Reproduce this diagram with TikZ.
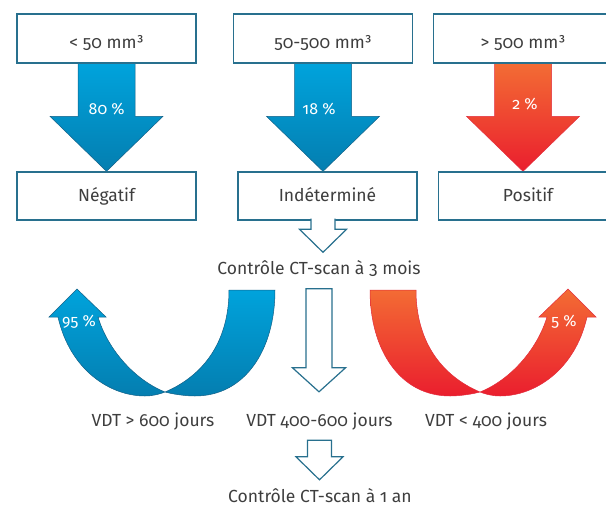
\documentclass[tikz,border=0pt]{standalone}
\usepackage{fontspec}
\setmainfont{Fira Sans}[Numbers=OldStyle]
\usetikzlibrary{calc,backgrounds}
\definecolor{boxline}{RGB}{40,112,142}
\definecolor{bluetop}{RGB}{0,163,220}
\definecolor{bluebot}{RGB}{4,126,176}
\definecolor{blueedge}{RGB}{18,96,135}
\definecolor{redtop}{RGB}{243,108,52}
\definecolor{redbot}{RGB}{234,30,46}
\definecolor{rededge}{RGB}{226,45,60}
\definecolor{txt}{RGB}{62,62,62}
\tikzset{
  sizebox/.style={draw=boxline, line width=1.3pt, fill=white, minimum width=179pt,
    minimum height=49pt, text=txt, font=\fontsize{17.5}{20}\selectfont,
    text height=23pt, text depth=3.5pt},
  resultbox/.style={sizebox, minimum height=48pt, text height=13pt, text depth=3pt},
  caption/.style={text=txt, font=\fontsize{17.5}{20}\selectfont, anchor=base,
    inner xsep=0pt, inner ysep=9pt, text height=13pt, text depth=5pt},
  pct/.style={text=white, font=\fontsize{16}{18}\selectfont, anchor=base, inner sep=0pt},
  bluearrow/.style={top color=bluetop, bottom color=bluebot, draw=blueedge, line width=0.5pt},
  redarrow/.style={top color=redtop, bottom color=redbot, draw=rededge, line width=0.5pt},
  hollow/.style={fill=white, draw=boxline, line width=1.2pt},
}
\def\FatArrow#1#2#3#4#5#6{%
 \path[#6] let \p1=#1, \p2=#2 in
   (\x1-#3pt,\y1) -- (\x1-#3pt,\y2+#5pt) -- (\x1-#4pt,\y2+#5pt) -- (\x1,\y2)
   -- (\x1+#4pt,\y2+#5pt) -- (\x1+#3pt,\y2+#5pt) -- (\x1+#3pt,\y1) -- cycle;
}
% same, but left open at the top where it leaves a box
\def\StubArrow#1#2#3#4#5#6{%
 \path[#6] let \p1=#1, \p2=#2 in
   (\x1-#3pt,\y1+2pt) -- (\x1-#3pt,\y2+#5pt) -- (\x1-#4pt,\y2+#5pt) -- (\x1,\y2)
   -- (\x1+#4pt,\y2+#5pt) -- (\x1+#3pt,\y2+#5pt) -- (\x1+#3pt,\y1+2pt);
}
\def\UTurn#1{%
 \path[#1] (58,317) .. controls (70,370) and (110,396) .. (145,396)
   .. controls (153,396) and (160,394) .. (165,392)
   .. controls (172,394) and (185,396) .. (195,396)
   .. controls (245,396) and (275,350) .. (275,290) -- (229,290)
   .. controls (229,340) and (205,375) .. (165,392)
   .. controls (135,380) and (108,350) .. (98,317) -- (106,317) -- (77,289)
   -- (49,317) -- cycle;
}
\begin{document}
\begin{tikzpicture}[x=1pt,y=-1pt]
\useasboundingbox (0,0) rectangle (606,515);
\node[sizebox] (lt50) at (106.5,38.5) {< 50 mm³};
\node[sizebox] (mid500) at (323,38.5) {50-500 mm³};
\node[sizebox] (gt500) at (523,38.5) {> 500 mm³};
\node[resultbox] (neg) at (106.5,196) {Négatif};
\node[resultbox] (ind) at (327.5,196) {Indéterminé};
\node[resultbox] (pos) at (528,196) {Positif};
\node[caption] (ctrl3) at (319,274.5) {Contrôle CT-scan à 3 mois};
\node[caption] (vdthigh) at (153,426) {VDT > 600 jours};
\node[caption] (vdtmid) at (319.5,426) {VDT 400-600 jours};
\node[caption] (vdtlow) at (486,426) {VDT < 400 jours};
\node[caption] (ctrl1) at (320,502) {Contrôle CT-scan à 1 an};

\begin{scope}[on background layer]
\FatArrow{(lt50.south)}{(neg.north)}{28.5}{56.5}{55}{bluearrow}
\FatArrow{(mid500.south)}{(ind.north)}{28.5}{56.5}{55}{bluearrow}
\FatArrow{(gt500.south)}{(pos.north)}{28.5}{56.5}{55}{redarrow}
\end{scope}

\UTurn{bluearrow}
\begin{scope}[xshift=645pt,xscale=-1]
\UTurn{redarrow}
\end{scope}

\node[pct] (pct80) at (106.7,114) {80 \%};
\node[pct] (pct18) at (319,114) {18 \%};
\node[pct] (pct2) at (525,109.3) {2 \%};
\node[pct] (pct95) at (79,326) {95 \%};
\node[pct] (pct5) at (564,326.7) {5 \%};

\StubArrow{(ind.south -| mid500.south)}{(ctrl3.north)}{12}{23.5}{23}{hollow}
\FatArrow{(ctrl3.south)}{($(vdtmid.north)+(0,-12)$)}{13}{26.5}{24}{hollow}
\FatArrow{(vdtmid.south)}{(ctrl1.north)}{12}{23.5}{23}{hollow}
\end{tikzpicture}
\end{document}
